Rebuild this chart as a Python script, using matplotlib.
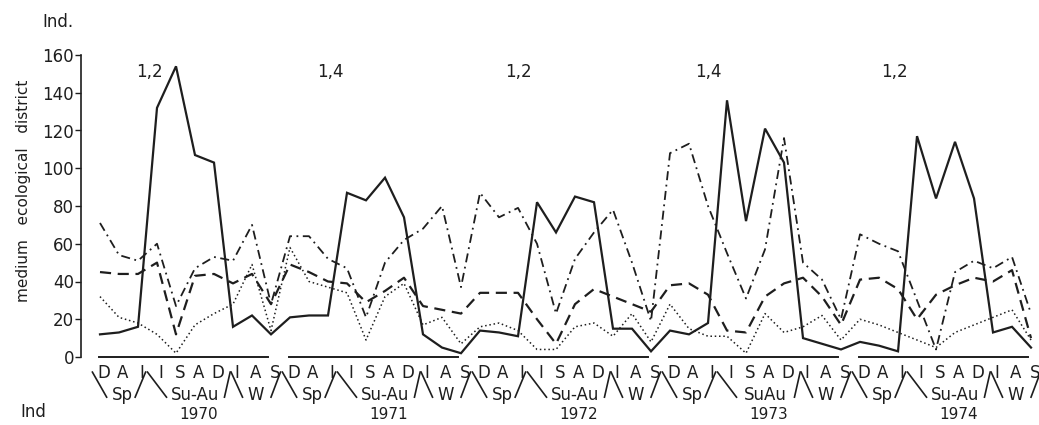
import matplotlib.pyplot as plt
import numpy as np

plt.rcParams["font.family"] = ["DejaVu Sans"]

# Valores (10 muestreos por año, 1970-1974)
years = ["1970", "1971", "1972", "1973", "1974"]
months = ["D", "A", "I", "I", "S", "A", "D", "I", "A", "S"]
seasons = ["Sp", "Su-Au", "W"]
peak_labels = ["1,2", "1,4", "1,2", "1,4", "1,2"]

solid = [
    12, 13, 16, 132, 154, 107, 103, 16, 22, 12,
    21, 22, 22, 87, 83, 95, 74, 12, 5, 2,
    14, 13, 11, 82, 66, 85, 82, 15, 15, 3,
    14, 12, 18, 136, 72, 121, 103, 10, 7, 4,
    8, 6, 3, 117, 84, 114, 84, 13, 16, 5,
]
dashed = [
    45, 44, 44, 50, 12, 43, 44, 39, 44, 28,
    49, 45, 40, 39, 29, 35, 42, 27, 25, 23,
    34, 34, 34, 20, 7, 28, 36, 32, 28, 24,
    38, 39, 33, 14, 13, 32, 39, 42, 32, 17,
    41, 42, 36, 20, 33, 38, 42, 40, 46, 10,
]
dashdot = [
    71, 54, 51, 60, 27, 47, 53, 51, 70, 28,
    64, 64, 52, 47, 21, 50, 62, 68, 80, 37,
    87, 74, 79, 60, 23, 52, 66, 78, 50, 19,
    108, 113, 80, 55, 31, 57, 116, 50, 41, 20,
    65, 60, 56, 30, 4, 45, 51, 47, 53, 23,
]
dotted = [
    32, 21, 18, 12, 2, 17, 23, 28, 49, 14,
    58, 40, 37, 34, 9, 32, 39, 17, 21, 7,
    16, 18, 14, 4, 4, 16, 18, 11, 23, 8,
    28, 15, 11, 11, 2, 23, 13, 16, 22, 9,
    20, 17, 13, 9, 5, 13, 17, 21, 25, 9,
]

ink = "#1e1e1e"
x = np.arange(len(solid))

fig = plt.figure(figsize=(10.39, 4.25), dpi=100)
ax = fig.add_axes([81 / 1039, 68 / 425, 958 / 1039, 302 / 425])

ax.plot(x, solid, color=ink, lw=1.6, solid_joinstyle="miter")
ax.plot(x, dashed, color=ink, lw=1.6, linestyle=(0, (5, 3)))
ax.plot(x, dashdot, color=ink, lw=1.3, linestyle=(0, (5, 2.5, 1, 2.5)))
ax.plot(x, dotted, color=ink, lw=1.1, linestyle=(0, (1, 1.8)))

ax.set_xlim(-1, 49.42)
ax.set_ylim(0, 160)
ax.set_yticks(np.arange(0, 161, 20))
ax.set_xticks([])
ax.tick_params(axis="y", direction="out", length=4, width=1, labelsize=12,
               colors=ink, pad=1)
for side in ["top", "right", "bottom"]:
    ax.spines[side].set_visible(False)
ax.spines["left"].set_color(ink)
ax.spines["left"].set_linewidth(1.2)

ax.set_ylabel("medium   ecological   district", fontsize=11, color=ink)
ax.yaxis.set_label_coords(-0.052, 0.55)

fig.text(58 / 1039, 1 - 22 / 425, "Ind.", fontsize=12, color=ink,
         ha="center", va="center")
fig.text(33 / 1039, 1 - 412 / 425, "Ind", fontsize=12, color=ink,
         ha="center", va="center")

tr = ax.get_xaxis_transform()
y_month, y_season, y_year = -0.053, -0.127, -0.19
y_top, y_bot = -0.05, -0.133

# pares (x arriba, x abajo) de las barras bajo los meses
bars = [(-0.4, 0.35), (2.4, 1.85), (2.5, 3.5), (6.85, 6.55), (6.9, 7.5), (9.5, 9.0)]
season_pos = [1.2, 5.0, 8.2]

for k, yr in enumerate(years):
    s = 10 * k
    ax.plot([s - 0.05, s + 8.85], [0, 0], color=ink, lw=1.4, clip_on=False)
    for j, m in enumerate(months):
        ax.text(s + j + 0.2, y_month, m, transform=tr, fontsize=12, color=ink,
                ha="center", va="center")
    for a, b in bars:
        ax.plot([s + a, s + b], [y_top, y_bot], transform=tr, color=ink,
                lw=1.2, clip_on=False)
    for p, name in zip(season_pos, seasons):
        if k == 3 and name == "Su-Au":
            name = "SuAu"
        ax.text(s + p, y_season, name, transform=tr, fontsize=12, color=ink,
                ha="center", va="center")
    ax.text(s + 5.2, y_year, yr, transform=tr, fontsize=11, color=ink,
            ha="center", va="center")

peak_x = [2.6, 12.1, 22.0, 32.0, 41.8]
for px, lab in zip(peak_x, peak_labels):
    ax.text(px, 151, lab, fontsize=12, color=ink, ha="center", va="center")

fig.savefig("out.png", dpi=100)
